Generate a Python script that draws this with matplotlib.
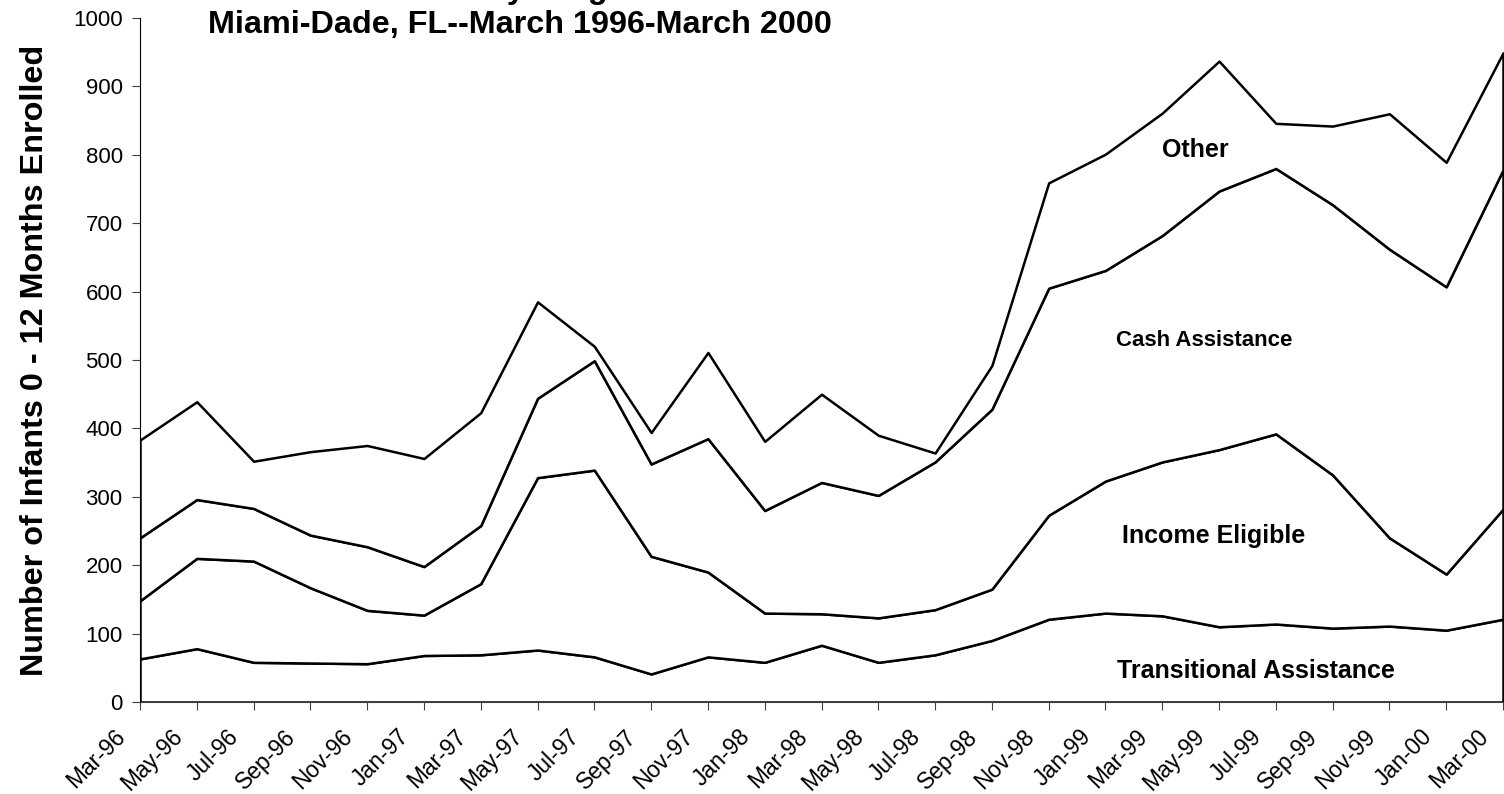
import numpy as np
import matplotlib.pyplot as plt
import matplotlib.transforms as mtransforms

plt.rcParams['font.family'] = ['Liberation Sans', 'DejaVu Sans']

# Bi-monthly enrollment, Mar-96 .. Mar-00
months = ['Mar-96', 'May-96', 'Jul-96', 'Sep-96', 'Nov-96', 'Jan-97', 'Mar-97',
          'May-97', 'Jul-97', 'Sep-97', 'Nov-97', 'Jan-98', 'Mar-98', 'May-98',
          'Jul-98', 'Sep-98', 'Nov-98', 'Jan-99', 'Mar-99', 'May-99', 'Jul-99',
          'Sep-99', 'Nov-99', 'Jan-00', 'Mar-00']

transitional = [63, 78, 58, 57, 56, 68, 69, 76, 66, 41, 66, 58, 83, 58, 69, 90,
                121, 130, 126, 110, 114, 108, 111, 105, 121]
income_eligible = [85, 132, 148, 110, 78, 59, 104, 252, 273, 172, 124, 72, 46, 65,
                   66, 75, 152, 193, 225, 259, 278, 224, 129, 82, 161]
cash_assistance = [92, 86, 77, 77, 93, 71, 85, 116, 160, 135, 195, 150, 192, 179,
                   216, 263, 332, 308, 331, 378, 388, 395, 422, 420, 496]
other = [143, 143, 69, 122, 148, 158, 165, 141, 21, 46, 126, 101, 129, 88, 13, 64,
         154, 170, 179, 190, 66, 115, 198, 182, 171]

x = np.arange(len(months))

fig = plt.figure(figsize=(15.04, 7.94), dpi=100)
ax = fig.add_axes([140 / 1504, 1 - 702 / 794, 1363 / 1504, 684 / 794])

ax.stackplot(x, transitional, income_eligible, cash_assistance, other,
             colors=['white'] * 4, edgecolor='black', linewidth=1.8)

ax.set_xlim(0, len(months) - 1)
ax.set_ylim(0, 1000)
ax.set_yticks(np.arange(0, 1001, 100))
ax.set_xticks(x)
ax.set_xticklabels(months, rotation=45, ha='right', fontsize=16.5)
ax.tick_params(axis='y', labelsize=16, length=5.5, pad=7, color='#404040')
ax.tick_params(axis='x', length=5.5, pad=4, color='#404040')

offset = mtransforms.ScaledTranslation(-10 / 100, -10 / 100, fig.dpi_scale_trans)
for lbl in ax.get_xticklabels():
    lbl.set_transform(lbl.get_transform() + offset)

for side in ['top', 'right']:
    ax.spines[side].set_visible(False)
ax.spines['left'].set_color('black')
ax.spines['bottom'].set_color('#404040')

ax.set_ylabel('Number of Infants 0 - 12 Months Enrolled', fontsize=23.3,
              fontweight='bold')
ax.yaxis.set_label_coords(-0.066, 0.5)

# series labels inside the stacked bands
ax.text(18.58, 807, 'Other', fontsize=18, fontweight='bold', ha='center', va='center')
ax.text(18.74, 529, 'Cash Assistance', fontsize=16, fontweight='bold',
        ha='center', va='center')
ax.text(18.9, 243, 'Income Eligible', fontsize=18, fontweight='bold',
        ha='center', va='center')
ax.text(19.65, 45, 'Transitional Assistance', fontsize=18, fontweight='bold',
        ha='center', va='center')

# title (first line falls above the picture edge)
fig.text(520 / 1504, 1 + 2 / 794, 'Infants by Program', fontsize=23.3,
         fontweight='bold', ha='center', va='baseline')
fig.text(520 / 1504, 1 - 33 / 794, 'Miami-Dade, FL--March 1996-March 2000',
         fontsize=23.3, fontweight='bold', ha='center', va='baseline')

fig.savefig('out.png', dpi=100)
